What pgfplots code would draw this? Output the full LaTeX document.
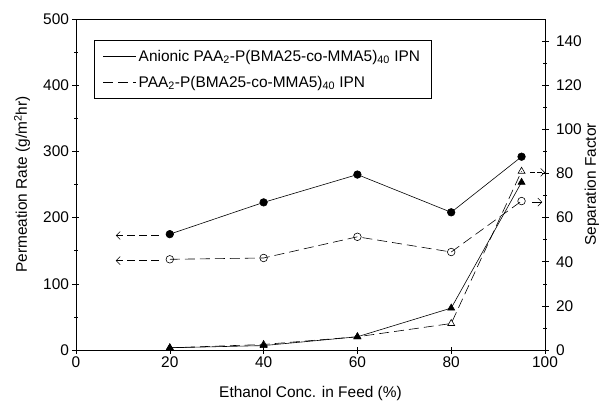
\documentclass[border=0pt]{standalone}
\usepackage{fontspec}
\setmainfont{Liberation Sans}
\usepackage{pgfplots}
\pgfplotsset{compat=1.18}
\usetikzlibrary{arrows.meta}
\begin{document}
\begin{tikzpicture}
\pgfplotsset{
  every axis/.append style={
    scale only axis, width=469bp, height=331bp,
    xmin=0, xmax=100,
    /pgf/number format/assume math mode=true,
    tick style={black, line width=0.6pt},
    major tick length=7bp, minor tick length=3.5bp,
    tick align=center,
    label style={font=\fontsize{15.5}{17}\selectfont},
    tick label style={font=\fontsize{15.5}{17}\selectfont},
  },
}
\begin{axis}[
  name=main,
  ymin=0, ymax=500,
  xtick={0,20,40,60,80,100},
  ytick={0,100,200,300,400,500},
  minor y tick num=1,
  xtick pos=bottom, ytick pos=left,
  xlabel={Ethanol Conc. in Feed (\%)},
  ylabel={Permeation Rate (g/m\textsuperscript{2}hr)},
  xlabel style={at={(axis description cs:0.5,-0.13)}, anchor=center},
  ylabel style={at={(axis description cs:-0.115,0.5)}, anchor=center},
  axis line style={line width=0.6pt},
  legend style={at={(0.038,0.937)}, anchor=north west, draw=black, line width=0.6pt,
    font=\fontsize{15.5}{17}\selectfont, cells={anchor=west}, row sep=9bp,
    inner xsep=9bp, inner ysep=8bp},
  legend image code/.code={\draw[#1] (0bp,0bp) -- (33bp,0bp);},
]
\addlegendimage{black, line width=0.6pt}
\addlegendentry{Anionic PAA\textsubscript{2}-P(BMA25-co-MMA5)\textsubscript{40} IPN}
\addlegendimage{black, line width=0.6pt, dash pattern=on 10bp off 5bp}
\addlegendentry{PAA\textsubscript{2}-P(BMA25-co-MMA5)\textsubscript{40} IPN}
\addplot[black, line width=0.6pt, mark=*, mark size=3.8bp, mark options={solid, fill=black}, forget plot]
  coordinates {(20,175) (40,223) (60,265) (80,208) (95,292)};
\addplot[black, line width=0.6pt, dash pattern=on 10bp off 5bp, mark=o, mark size=3.8bp, mark options={solid, fill=white}, forget plot]
  coordinates {(20,137) (40,139) (60,171) (80,148) (95,225)};
\draw[black, line width=0.5pt, dash pattern=on 8bp off 4bp, -{Straight Barb[length=4bp]}] (axis cs:17.6,173) -- (axis cs:8.5,173);
\draw[black, line width=0.5pt, dash pattern=on 8bp off 4bp, -{Straight Barb[length=4bp]}] (axis cs:17.6,135) -- (axis cs:8.5,135);
\end{axis}
\begin{axis}[
  ymin=0, ymax=150,
  ytick={0,20,40,60,80,100,120,140},
  minor y tick num=1,
  axis x line=none,
  axis y line*=right,
  yticklabel style={xshift=4bp},
  ylabel={Separation Factor},
  ylabel style={at={(axis description cs:1.100,0.5)}, anchor=center},
  axis line style={line width=0.6pt, -},
]
\addplot[black, line width=0.6pt, mark=triangle*, mark size=4bp, mark options={solid, fill=black}]
  coordinates {(20,1) (40,2) (60,6) (80,19) (95,76)};
\addplot[black, line width=0.6pt, dash pattern=on 10bp off 5bp, mark=triangle, mark size=4bp, mark options={solid, fill=white}]
  coordinates {(20,1) (40,2.5) (60,6) (80,12) (95,81)};
\draw[black, line width=0.5pt, dash pattern=on 5bp off 2bp, -{Straight Barb[length=4bp]}] (axis cs:96.9,80.5) -- (axis cs:100,80.5);
\draw[black, line width=0.5pt, -{Straight Barb[length=4bp]}] (axis cs:97.2,67) -- (axis cs:99.4,67);
\end{axis}
\path[use as bounding box] ([shift={(-76bp,-58bp)}]main.south west) rectangle ([shift={(65bp,19bp)}]main.north east);
\end{tikzpicture}
\end{document}
